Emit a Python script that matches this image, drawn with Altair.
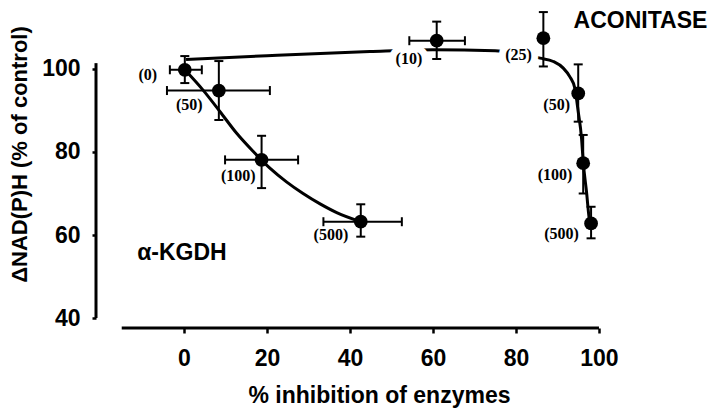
import altair as alt
import pandas as pd

# ---------------- data ----------------
X_DOMAIN = [-21.2, 125.07]
Y_DOMAIN = [37.6, 114.2]
X_TICKS = [0, 20, 40, 60, 80, 100]
Y_TICKS = [40, 60, 80, 100]
X_AXIS_SPAN = [-15, 100]
Y_AXIS_SPAN = [40, 101.4]

# alpha-KGDH data points (inhibitor concentration in labels)
kg_x = [0.2, 8.4, 18.7, 42.6]
kg_y = [99.8, 94.8, 78.1, 63.2]
kg_xlo = [-3.4, -4.1, 9.9, 33.6]
kg_xhi = [4.3, 20.7, 27.5, 52.5]
kg_ylo = [96.6, 87.7, 71.3, 59.6]
kg_yhi = [103.1, 101.9, 83.9, 67.4]
kg_labels = ["(0)", "(50)", "(100)", "(500)"]
kg_lab_x = [-8.7, 1.3, 13.1, 35.4]
kg_lab_y = [98.6, 91.2, 74.3, 60.0]

# aconitase data points
ac_x = [60.9, 86.6, 95.0, 96.2, 98.1]
ac_y = [106.8, 107.4, 94.1, 77.3, 62.8]
ac_ylo = [102.4, 100.6, 87.3, 70.0, 59.2]
ac_yhi = [111.4, 113.7, 101.1, 84.1, 66.8]
ac_xerr_idx = [0]
ac_xlo = [54.3]
ac_xhi = [67.7]
ac_labels = ["(10)", "(25)", "(50)", "(100)", "(500)"]
ac_lab_x = [54.2, 80.6, 89.8, 89.4, 91.0]
ac_lab_y = [102.4, 103.4, 91.3, 74.5, 60.2]
ac_labels_on_line = ["(10)", "(25)"]

# fitted curves
kg_curve_x = [0.2, 4.6, 8.7, 12.7, 16.7, 20.7, 24.7, 28.7, 32.8, 36.8, 42.6]
kg_curve_y = [99.8, 94.9, 89.7, 84.5, 80.1, 76.1, 72.8, 70.0, 67.5, 65.4, 63.2]
ac_curve_x = [0.5, 20, 44.8, 60, 75, 85.8, 89, 91.4, 93, 94.2, 95, 95.8, 96.2, 97, 97.8, 98.1]
ac_curve_y = [102.3, 103.2, 104.2, 104.6, 104.4, 102.6, 101.8, 100.2, 98.1, 95.3, 89.7, 83.3, 77.7, 70.4, 63.2, 62.8]

panel_labels = ["\u03b1-KGDH", "ACONITASE"]
panel_lab_x = [-0.5, 110.0]
panel_lab_y = [55.7, 111.6]

X_TITLE = "% inhibition of enzymes"
Y_TITLE = "\u0394NAD(P)H (% of control)"

# ---------------- tables ----------------
points = pd.DataFrame({"x": kg_x + ac_x, "y": kg_y + ac_y})
yerr = pd.DataFrame({"x": kg_x + ac_x, "ylo": kg_ylo + ac_ylo, "yhi": kg_yhi + ac_yhi})
xerr = pd.DataFrame({
    "y": kg_y + [ac_y[i] for i in ac_xerr_idx],
    "xlo": kg_xlo + ac_xlo,
    "xhi": kg_xhi + ac_xhi,
})
ycaps = pd.DataFrame({"x": list(yerr["x"]) * 2, "y": list(yerr["ylo"]) + list(yerr["yhi"])})
xcaps = pd.DataFrame({"x": list(xerr["xlo"]) + list(xerr["xhi"]), "y": list(xerr["y"]) * 2})
labels = pd.DataFrame({
    "text": kg_labels + ac_labels,
    "x": kg_lab_x + ac_lab_x,
    "y": kg_lab_y + ac_lab_y,
})
labels["halo"] = labels["text"].isin(ac_labels_on_line) & labels.index.isin(range(len(kg_labels), len(labels)))
curves = pd.DataFrame({
    "x": kg_curve_x + ac_curve_x,
    "y": kg_curve_y + ac_curve_y,
    "enzyme": ["kgdh"] * len(kg_curve_x) + ["aconitase"] * len(ac_curve_x),
    "order": list(range(len(kg_curve_x))) + list(range(len(ac_curve_x))),
})
panels = pd.DataFrame({"text": panel_labels, "x": panel_lab_x, "y": panel_lab_y})
xaxis_line = pd.DataFrame({"x": [X_AXIS_SPAN[0]], "x2": [X_AXIS_SPAN[1]], "y": [Y_DOMAIN[0]]})
yaxis_line = pd.DataFrame({"x": [X_DOMAIN[0]], "y": [Y_AXIS_SPAN[0]], "y2": [Y_AXIS_SPAN[1]]})

# ---------------- scales / axes ----------------
FONT = "Liberation Sans"
xs = alt.Scale(domain=X_DOMAIN, nice=False, zero=False)
ys = alt.Scale(domain=Y_DOMAIN, nice=False, zero=False)
x_axis = alt.Axis(values=X_TICKS, domain=False, grid=False, tickSize=5, tickWidth=2.5,
                  tickColor="black", labelFont=FONT, labelFontSize=23, labelFontWeight="bold",
                  labelColor="black", labelPadding=14, title=X_TITLE, titleFont=FONT,
                  titleFontSize=23, titleFontWeight="bold", titleColor="black",
                  titleX=283, titleY=56, titleBaseline="top")
y_axis = alt.Axis(values=Y_TICKS, domain=False, grid=False, tickSize=4, tickWidth=2.5,
                  tickColor="black", labelFont=FONT, labelFontSize=23, labelFontWeight="bold",
                  labelColor="black", labelPadding=12, title=Y_TITLE, titleFont=FONT,
                  titleFontSize=22, titleFontWeight="bold", titleColor="black",
                  titleX=-65, titleY=144)


def X(f):
    return alt.X(f, type="quantitative", scale=xs, axis=x_axis)


def Y(f):
    return alt.Y(f, type="quantitative", scale=ys, axis=y_axis)


x_line = alt.Chart(xaxis_line).mark_rule(color="black", strokeWidth=3).encode(
    x=X("x"), x2="x2", y=Y("y"))
y_line = alt.Chart(yaxis_line).mark_rule(color="black", strokeWidth=3).encode(
    x=X("x"), y=Y("y"), y2="y2")

curve_layer = alt.Chart(curves).mark_line(color="black", strokeWidth=3, interpolate="monotone").encode(
    x=X("x"), y=Y("y"), detail="enzyme:N", order="order:Q")

halo = alt.Chart(labels).transform_filter("datum.halo").mark_text(
    font="Liberation Serif", fontWeight="bold", fontSize=16, fill="white",
    stroke="white", strokeWidth=14).encode(x=X("x"), y=Y("y"), text="text:N")

yerr_layer = alt.Chart(yerr).mark_rule(color="black", strokeWidth=2).encode(
    x=X("x"), y=Y("ylo"), y2="yhi")
xerr_layer = alt.Chart(xerr).mark_rule(color="black", strokeWidth=2).encode(
    x=X("xlo"), x2="xhi", y=Y("y"))
ycap_layer = alt.Chart(ycaps).mark_tick(color="black", orient="horizontal", size=9,
                                        thickness=2, opacity=1).encode(x=X("x"), y=Y("y"))
xcap_layer = alt.Chart(xcaps).mark_tick(color="black", orient="vertical", size=9,
                                        thickness=2, opacity=1).encode(x=X("x"), y=Y("y"))
pt_layer = alt.Chart(points).mark_circle(color="black", size=190, opacity=1).encode(
    x=X("x"), y=Y("y"))

lab_layer = alt.Chart(labels).mark_text(
    font="Liberation Serif", fontWeight="bold", fontSize=16, color="black").encode(
    x=X("x"), y=Y("y"), text="text:N")

panel_layer = alt.Chart(panels).mark_text(
    font=FONT, fontWeight="bold", fontSize=23, color="black").encode(
    x=X("x"), y=Y("y"), text="text:N")

chart = alt.layer(
    x_line, y_line, curve_layer, halo, yerr_layer, xerr_layer, ycap_layer, xcap_layer,
    pt_layer, lab_layer, panel_layer
).properties(
    width=607, height=318,
    autosize=alt.AutoSizeParams(type="none"),
    padding={"left": 88, "top": 2, "right": 9, "bottom": 80},
    background="white",
).configure_view(stroke=None)

chart.save("out.html", embed_options={"renderer": "svg", "actions": False})
